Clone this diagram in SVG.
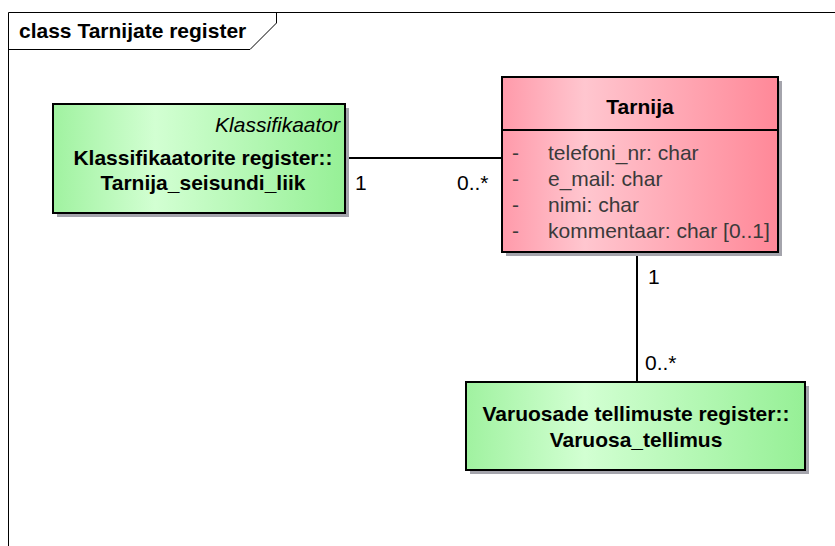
<svg xmlns="http://www.w3.org/2000/svg" width="835" height="546" viewBox="0 0 835 546">
  <defs>
    <linearGradient id="gradGreen" x1="0" y1="0" x2="1" y2="0">
      <stop offset="0" stop-color="#a0f2a0"/>
      <stop offset="0.35" stop-color="#d2ffd2"/>
      <stop offset="1" stop-color="#96f096"/>
    </linearGradient>
    <linearGradient id="gradPink" x1="0" y1="0" x2="1" y2="0">
      <stop offset="0" stop-color="#ff9aaa"/>
      <stop offset="0.3" stop-color="#ffc6cf"/>
      <stop offset="1" stop-color="#ff8898"/>
    </linearGradient>
    <style>
      text { font-family: "Liberation Sans", Arial, sans-serif; font-size: 21px; fill: #000; }
      .bold { font-weight: bold; }
      .ital { font-style: italic; }
      .attr { fill: #3a3a3a; }
      .mid { text-anchor: middle; }
      .end { text-anchor: end; }
      .shadow { fill: #a4a4ac; }
      .box { stroke: #000; stroke-width: 2; }
      .line { stroke: #000; stroke-width: 2; fill: none; }
      .frame { stroke: #000; stroke-width: 1; fill: none; }
    </style>
  </defs>

  <rect width="835" height="546" fill="#fff"/>

  <!-- diagram frame and title tab -->
  <g id="frame">
    <path class="frame" d="M8.5,546 V12.5 H835"/>
    <path class="frame" d="M8.5,49.5 H250 L276.5,23 V12.5"/>
    <text class="bold" x="19" y="38">class Tarnijate register</text>
  </g>

  <!-- associations -->
  <g id="connectors">
    <line class="line" x1="345" y1="158" x2="502" y2="158"/>
    <line class="line" x1="637" y1="252" x2="637" y2="382"/>
    <text x="355" y="190">1</text>
    <text x="457" y="190">0..*</text>
    <text x="648" y="284">1</text>
    <text x="645" y="370">0..*</text>
  </g>

  <g id="klassifikaator">
    <rect class="shadow" x="57" y="108" width="292" height="109"/>
    <rect class="box" x="53" y="104" width="292" height="109" fill="url(#gradGreen)"/>
    <text class="ital end" x="340" y="132">Klassifikaator</text>
    <text class="bold mid" x="203" y="165">Klassifikaatorite register::</text>
    <text class="bold mid" x="203" y="190">Tarnija_seisundi_liik</text>
  </g>

  <g id="tarnija">
    <rect class="shadow" x="506" y="81" width="276" height="175"/>
    <rect class="box" x="502" y="77" width="276" height="175" fill="url(#gradPink)"/>
    <line class="line" x1="502" y1="130" x2="778" y2="130"/>
    <text class="bold mid" x="640" y="114">Tarnija</text>
    <text class="attr" x="512" y="160">-</text>
    <text class="attr" x="548" y="160">telefoni_nr: char</text>
    <text class="attr" x="512" y="186">-</text>
    <text class="attr" x="548" y="186">e_mail: char</text>
    <text class="attr" x="512" y="212">-</text>
    <text class="attr" x="548" y="212">nimi: char</text>
    <text class="attr" x="512" y="238">-</text>
    <text class="attr" x="548" y="238">kommentaar: char [0..1]</text>
  </g>

  <g id="varuosa_tellimus">
    <rect class="shadow" x="470" y="386" width="339" height="88"/>
    <rect class="box" x="466" y="382" width="339" height="88" fill="url(#gradGreen)"/>
    <text class="bold mid" x="636" y="421">Varuosade tellimuste register::</text>
    <text class="bold mid" x="636" y="447">Varuosa_tellimus</text>
  </g>
</svg>
